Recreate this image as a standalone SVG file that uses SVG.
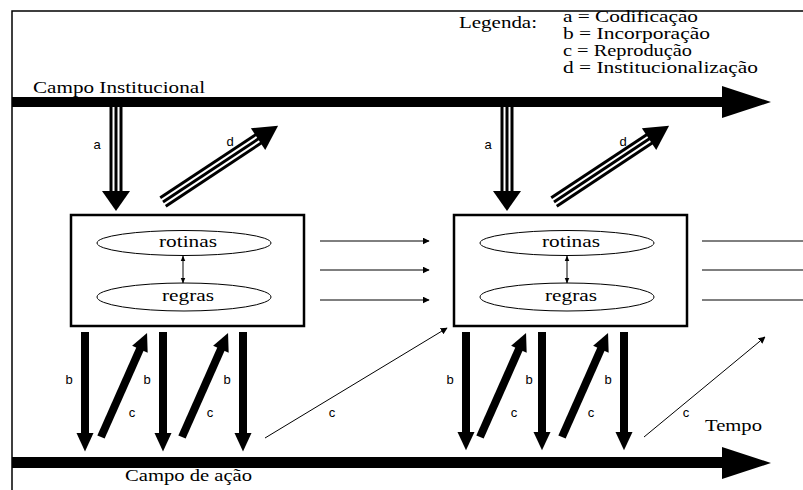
<svg xmlns="http://www.w3.org/2000/svg" width="803" height="490" viewBox="0 0 803 490">
<style>
.t{font-family:"Liberation Serif","Times New Roman",serif;font-size:16px;fill:#000}
.l{font-family:"Liberation Sans",Arial,sans-serif;font-size:13px;fill:#000}
.box{fill:#fff;stroke:#000;stroke-width:2.5}
.el{fill:#fff;stroke:#000;stroke-width:1}
.thin{stroke:#000;stroke-width:1;fill:none}
.tri{stroke:#000;stroke-width:3}
.thick{stroke:#000;stroke-width:8}
</style>
<defs>
<marker id="ah" viewBox="0 0 10 10" refX="9" refY="5" markerWidth="7" markerHeight="7" markerUnits="userSpaceOnUse" orient="auto"><path d="M0,0L10,5L0,10z" fill="#000"/></marker>
<marker id="sm" viewBox="0 0 10 10" refX="9" refY="5" markerWidth="6" markerHeight="6" markerUnits="userSpaceOnUse" orient="auto-start-reverse"><path d="M0,1L10,5L0,9z" fill="#000"/></marker>
<g id="tripleArrow">
<line class="tri" x1="0" y1="-5" x2="86" y2="-5"/>
<line class="tri" x1="0" y1="0" x2="86" y2="0"/>
<line class="tri" x1="0" y1="5" x2="86" y2="5"/>
<path d="M84,-14L104,0L84,14z" fill="#000"/>
</g>
<g id="tripleArrowD">
<line class="tri" x1="0" y1="-5" x2="118" y2="-5"/>
<line class="tri" x1="0" y1="0" x2="118" y2="0"/>
<line class="tri" x1="0" y1="5" x2="118" y2="5"/>
<path d="M114,-13L138,0L114,13z" fill="#000"/>
</g>
<g id="thickArrow">
<line class="thick" x1="0" y1="0" x2="100" y2="0"/>
<path d="M98,-8.5L116,0L98,8.5z" fill="#000"/>
</g>
</defs>
<rect x="0" y="0" width="803" height="490" fill="#fff"/>
<g id="frame">
<path d="M12,490V11H803" fill="none" stroke="#000" stroke-width="1.5"/>
</g>
<g id="legend">
<text class="t" x="459" y="28" textLength="78" lengthAdjust="spacingAndGlyphs">Legenda:</text>
<text class="t" x="563" y="22" textLength="135" lengthAdjust="spacingAndGlyphs">a = Codificação</text>
<text class="t" x="563" y="39" textLength="147" lengthAdjust="spacingAndGlyphs">b = Incorporação</text>
<text class="t" x="563" y="56" textLength="129" lengthAdjust="spacingAndGlyphs">c = Reprodução</text>
<text class="t" x="563" y="73" textLength="195" lengthAdjust="spacingAndGlyphs">d = Institucionalização</text>
</g>
<g id="campo-institucional">
<rect x="12" y="97" width="712" height="10" fill="#000"/>
<path d="M722,86L771,102L722,118z" fill="#000"/>
<text class="t" x="33" y="93" textLength="172" lengthAdjust="spacingAndGlyphs">Campo Institucional</text>
</g>
<g id="campo-acao">
<rect x="12" y="457" width="712" height="11" fill="#000"/>
<path d="M722,447L771,463L722,479z" fill="#000"/>
<text class="t" x="125" y="481" textLength="127" lengthAdjust="spacingAndGlyphs">Campo de ação</text>
<text class="t" x="705" y="431" textLength="57" lengthAdjust="spacingAndGlyphs">Tempo</text>
</g>
<g id="box1">
<rect class="box" x="71" y="215" width="233" height="111"/>
<ellipse class="el" cx="184" cy="243" rx="87" ry="12.5"/>
<text class="t" x="159" y="247" textLength="58" lengthAdjust="spacingAndGlyphs">rotinas</text>
<ellipse class="el" cx="184" cy="297" rx="87" ry="14"/>
<text class="t" x="162" y="301" textLength="52" lengthAdjust="spacingAndGlyphs">regras</text>
</g>
<g id="box2">
<rect class="box" x="454" y="215" width="233" height="111"/>
<ellipse class="el" cx="567" cy="243" rx="87" ry="12.5"/>
<text class="t" x="542" y="247" textLength="58" lengthAdjust="spacingAndGlyphs">rotinas</text>
<ellipse class="el" cx="567" cy="297" rx="87" ry="14"/>
<text class="t" x="545" y="301" textLength="52" lengthAdjust="spacingAndGlyphs">regras</text>
</g>
<g id="connectors">
<line class="thin" x1="183" y1="256" x2="183" y2="283" marker-start="url(#sm)" marker-end="url(#sm)"/>
<line class="thin" x1="567" y1="256" x2="567" y2="283" marker-start="url(#sm)" marker-end="url(#sm)"/>
<line class="thin" x1="320" y1="241" x2="429" y2="241" marker-end="url(#ah)"/>
<line class="thin" x1="320" y1="270" x2="429" y2="270" marker-end="url(#ah)"/>
<line class="thin" x1="320" y1="300" x2="429" y2="300" marker-end="url(#ah)"/>
<line class="thin" x1="702" y1="241" x2="803" y2="241"/>
<line class="thin" x1="702" y1="270" x2="803" y2="270"/>
<line class="thin" x1="702" y1="300" x2="803" y2="300"/>
<use href="#tripleArrow" transform="translate(116,107) rotate(90)"/>
<use href="#tripleArrow" transform="translate(507,107) rotate(90)"/>
<use href="#tripleArrowD" transform="translate(163,202) rotate(-33.5)"/>
<use href="#tripleArrowD" transform="translate(554,202) rotate(-33.5)"/>
<use href="#thickArrow" transform="translate(85,332) rotate(90) scale(1.03,1)"/>
<use href="#thickArrow" transform="translate(163,332) rotate(90) scale(1.03,1)"/>
<use href="#thickArrow" transform="translate(243,332) rotate(90) scale(1.03,1)"/>
<use href="#thickArrow" transform="translate(466,332) rotate(90) scale(1.02,1)"/>
<use href="#thickArrow" transform="translate(542,332) rotate(90) scale(1.02,1)"/>
<use href="#thickArrow" transform="translate(624,332) rotate(90) scale(1.02,1)"/>
<use href="#thickArrow" transform="translate(101,437) rotate(-66.1) scale(0.98,1)"/>
<use href="#thickArrow" transform="translate(182,437) rotate(-66.1) scale(0.98,1)"/>
<use href="#thickArrow" transform="translate(480,437) rotate(-66.1) scale(0.98,1)"/>
<use href="#thickArrow" transform="translate(562,437) rotate(-66.1) scale(0.98,1)"/>
<line class="thin" x1="265" y1="438" x2="447" y2="328" marker-end="url(#ah)"/>
<line class="thin" x1="644" y1="437" x2="765" y2="337" marker-end="url(#ah)"/>
</g>
<g id="labels">
<text class="l" x="97" y="149" text-anchor="middle">a</text>
<text class="l" x="488" y="149" text-anchor="middle">a</text>
<text class="l" x="230" y="146" text-anchor="middle">d</text>
<text class="l" x="623" y="146" text-anchor="middle">d</text>
<text class="l" x="69" y="384" text-anchor="middle">b</text>
<text class="l" x="147" y="384" text-anchor="middle">b</text>
<text class="l" x="227" y="384" text-anchor="middle">b</text>
<text class="l" x="450" y="384" text-anchor="middle">b</text>
<text class="l" x="529" y="384" text-anchor="middle">b</text>
<text class="l" x="608" y="384" text-anchor="middle">b</text>
<text class="l" x="132" y="417" text-anchor="middle">c</text>
<text class="l" x="210" y="417" text-anchor="middle">c</text>
<text class="l" x="332" y="417" text-anchor="middle">c</text>
<text class="l" x="514" y="417" text-anchor="middle">c</text>
<text class="l" x="591" y="417" text-anchor="middle">c</text>
<text class="l" x="686" y="417" text-anchor="middle">c</text>
</g>
</svg>
